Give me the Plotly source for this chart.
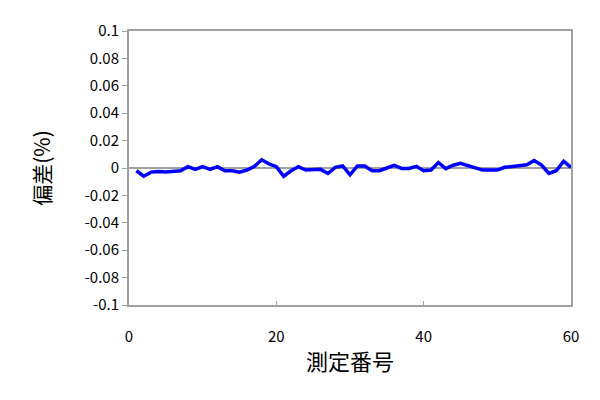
import plotly.graph_objects as go

measurement_no = list(range(1, 61))
deviation = [
    -0.002, -0.006, -0.003, -0.0025, -0.003, -0.0025, -0.002, 0.001, -0.001, 0.001,
    -0.001, 0.001, -0.002, -0.002, -0.003, -0.0015, 0.001, 0.006, 0.003, 0.001,
    -0.006, -0.002, 0.001, -0.0015, -0.001, -0.001, -0.004, 0.0005, 0.0015, -0.005,
    0.0015, 0.0015, -0.002, -0.002, 0.0, 0.002, -0.0003, -0.0003, 0.0012, -0.002,
    -0.0015, 0.004, -0.0005, 0.002, 0.0035, 0.0017, 0.0005, -0.0015, -0.0015, -0.0015,
    0.0005, 0.001, 0.0017, 0.0024, 0.0055, 0.0022, -0.004, -0.002, 0.005, 0.0005,
]

y_tick_vals = [0.1, 0.08, 0.06, 0.04, 0.02, 0, -0.02, -0.04, -0.06, -0.08, -0.1]
y_tick_text = ["0.1", "0.08", "0.06", "0.04", "0.02", "0", "-0.02", "-0.04", "-0.06", "-0.08", "-0.1"]
x_tick_vals = [0, 20, 40, 60]
x_tick_text = ["0", "20", "40", "60"]

font_family = "Noto Sans CJK JP, DejaVu Sans, sans-serif"
grey = "#A0A0A0"

fig = go.Figure()
fig.add_trace(go.Scatter(
    x=measurement_no, y=deviation, mode="lines",
    line=dict(color="#0000FF", width=3.5),
    showlegend=False,
))

fig.update_layout(
    width=600, height=400,
    margin=dict(l=121, r=37, t=23, b=103),
    paper_bgcolor="white", plot_bgcolor="white",
    font=dict(family=font_family, color="black"),
)
fig.update_xaxes(
    range=[0, 60], tickvals=x_tick_vals, ticktext=x_tick_text,
    showgrid=False, zeroline=False,
    showline=True, linecolor=grey, linewidth=2, mirror=True,
    ticks="inside", ticklen=4, tickcolor=grey,
    ticklabelstandoff=17,
    tickfont=dict(size=15),
    title=dict(text="測定番号", font=dict(size=22), standoff=10),
)
fig.update_yaxes(
    range=[-0.1, 0.1], tickvals=y_tick_vals, ticktext=y_tick_text,
    showgrid=False, zeroline=True, zerolinecolor=grey, zerolinewidth=2,
    showline=True, linecolor=grey, linewidth=2, mirror=True,
    ticks="outside", ticklen=5, tickcolor=grey,
    tickfont=dict(size=15),
    title=dict(text="偏差(%)", font=dict(size=21), standoff=28),
)

fig.write_html("out.html")
